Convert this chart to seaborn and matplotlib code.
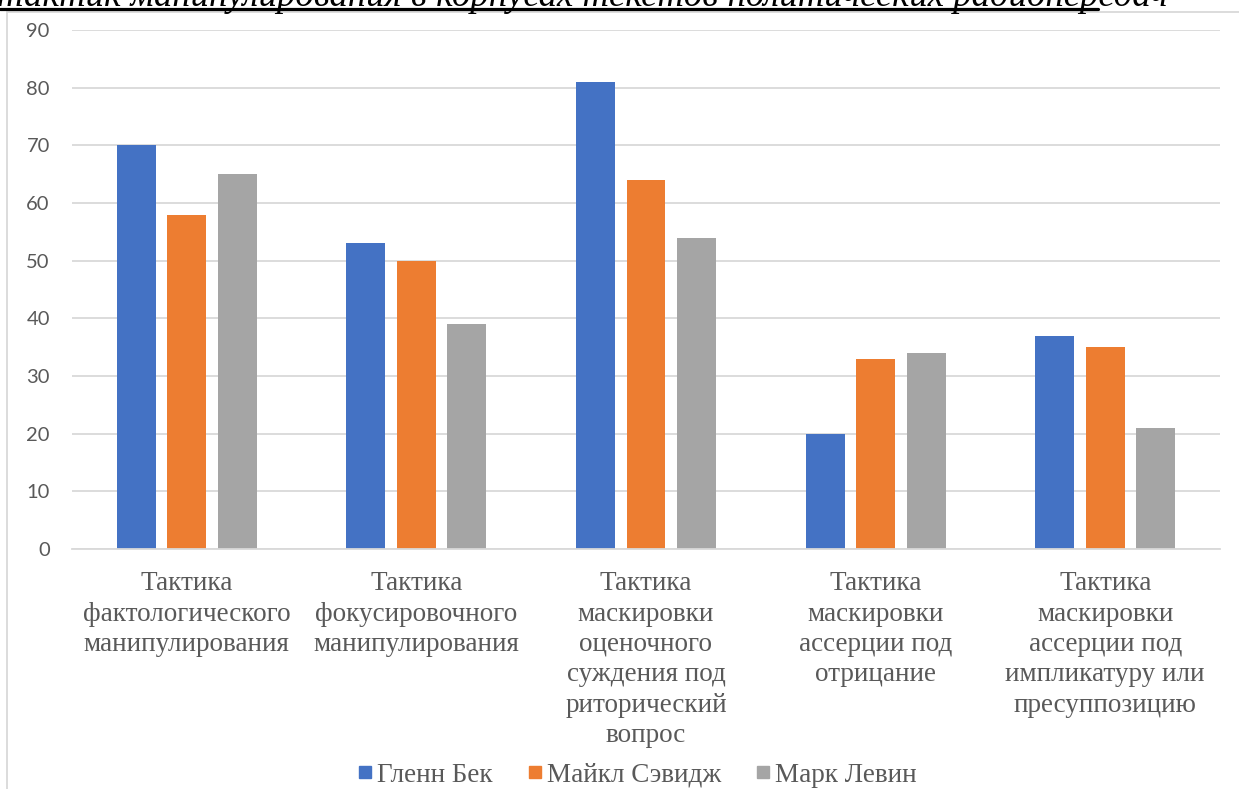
import matplotlib
matplotlib.use("Agg")
import matplotlib.pyplot as plt
import seaborn as sns
import pandas as pd
from matplotlib.patches import Rectangle
from matplotlib.lines import Line2D

categories = [
    "Тактика\nфактологического\nманипулирования",
    "Тактика\nфокусировочного\nманипулирования",
    "Тактика\nмаскировки\nоценочного\nсуждения под\nриторический\nвопрос",
    "Тактика\nмаскировки\nассерции под\nотрицание",
    "Тактика\nмаскировки\nассерции под\nимпликатуру или\nпресуппозицию",
]
series_names = ["Гленн Бек", "Майкл Сэвидж", "Марк Левин"]
glenn_beck = [70, 53, 81, 20, 37]
michael_savage = [58, 50, 64, 33, 35]
mark_levin = [65, 39, 54, 34, 21]
yticks = [0, 10, 20, 30, 40, 50, 60, 70, 80, 90]
title_text = "тактик манипулирования в корпусах текстов политических радиопередач"

colors = ["#4472C4", "#ED7D31", "#A5A5A5"]

rows = []
for name, vals in zip(series_names, [glenn_beck, michael_savage, mark_levin]):
    for c, v in zip(categories, vals):
        rows.append({"cat": c, "series": name, "value": v})
df = pd.DataFrame(rows)

sns.set_theme(style="white")
W, H = 1239, 789
fig = plt.figure(figsize=(W / 100, H / 100), dpi=100)
ax = fig.add_axes([72 / W, 1 - 549 / H, (1220 - 72) / W, (549 - 30) / H])

sns.barplot(data=df, x="cat", y="value", hue="series", palette=colors,
            width=0.66, gap=0.23, ax=ax, legend=False, saturation=1.0,
            linewidth=0, edgecolor="none")

ax.set_ylim(0, 90)
ax.set_xlim(-0.5, len(categories) - 0.5)
ax.set_yticks(yticks)
ax.set_yticklabels([str(t) for t in yticks], fontfamily="Lato", fontsize=14.5, color="#595959")
ax.set_xticks(range(len(categories)))
ax.set_xticklabels(categories, fontfamily="Liberation Serif", fontsize=19.5, color="#595959",
                   linespacing=1.28, va="top")
ax.tick_params(axis="y", length=0, pad=16)
ax.tick_params(axis="x", length=0, pad=16)
ax.set_xlabel("")
ax.set_ylabel("")
ax.grid(axis="y", color="#D9D9D9", linewidth=1.3)
ax.set_axisbelow(True)
for s in ["top", "right", "left"]:
    ax.spines[s].set_visible(False)
ax.spines["bottom"].set_color("#D9D9D9")
ax.spines["bottom"].set_linewidth(1.3)

# chart frame
fig.patches.append(Rectangle((7 / W, -0.1), 1.2, 1.1 - 12 / H, transform=fig.transFigure,
                             fill=False, edgecolor="#D9D9D9", linewidth=1.3, zorder=0))

# legend
handles = [Line2D([0], [0], marker="s", linestyle="none", markersize=9,
                  markerfacecolor=c, markeredgecolor=c) for c in colors]
fig.legend(handles, series_names, loc="center", bbox_to_anchor=(635 / W, 1 - 775 / H),
           ncol=3, frameon=False, prop={"family": "Liberation Serif", "size": 19.5},
           labelcolor="#595959", handletextpad=0.0, columnspacing=1.1, handlelength=0.9)

# cut-off title at the top
fig.text(-3 / W, 1 - 6 / H, title_text, fontfamily="Liberation Serif", fontstyle="italic",
         fontsize=26.5, color="black", ha="left", va="baseline")
fig.add_artist(Line2D([0, 1098 / W], [1 - 8.5 / H, 1 - 8.5 / H], transform=fig.transFigure,
                      color="black", linewidth=2.3))

fig.savefig("out.png", dpi=100)
